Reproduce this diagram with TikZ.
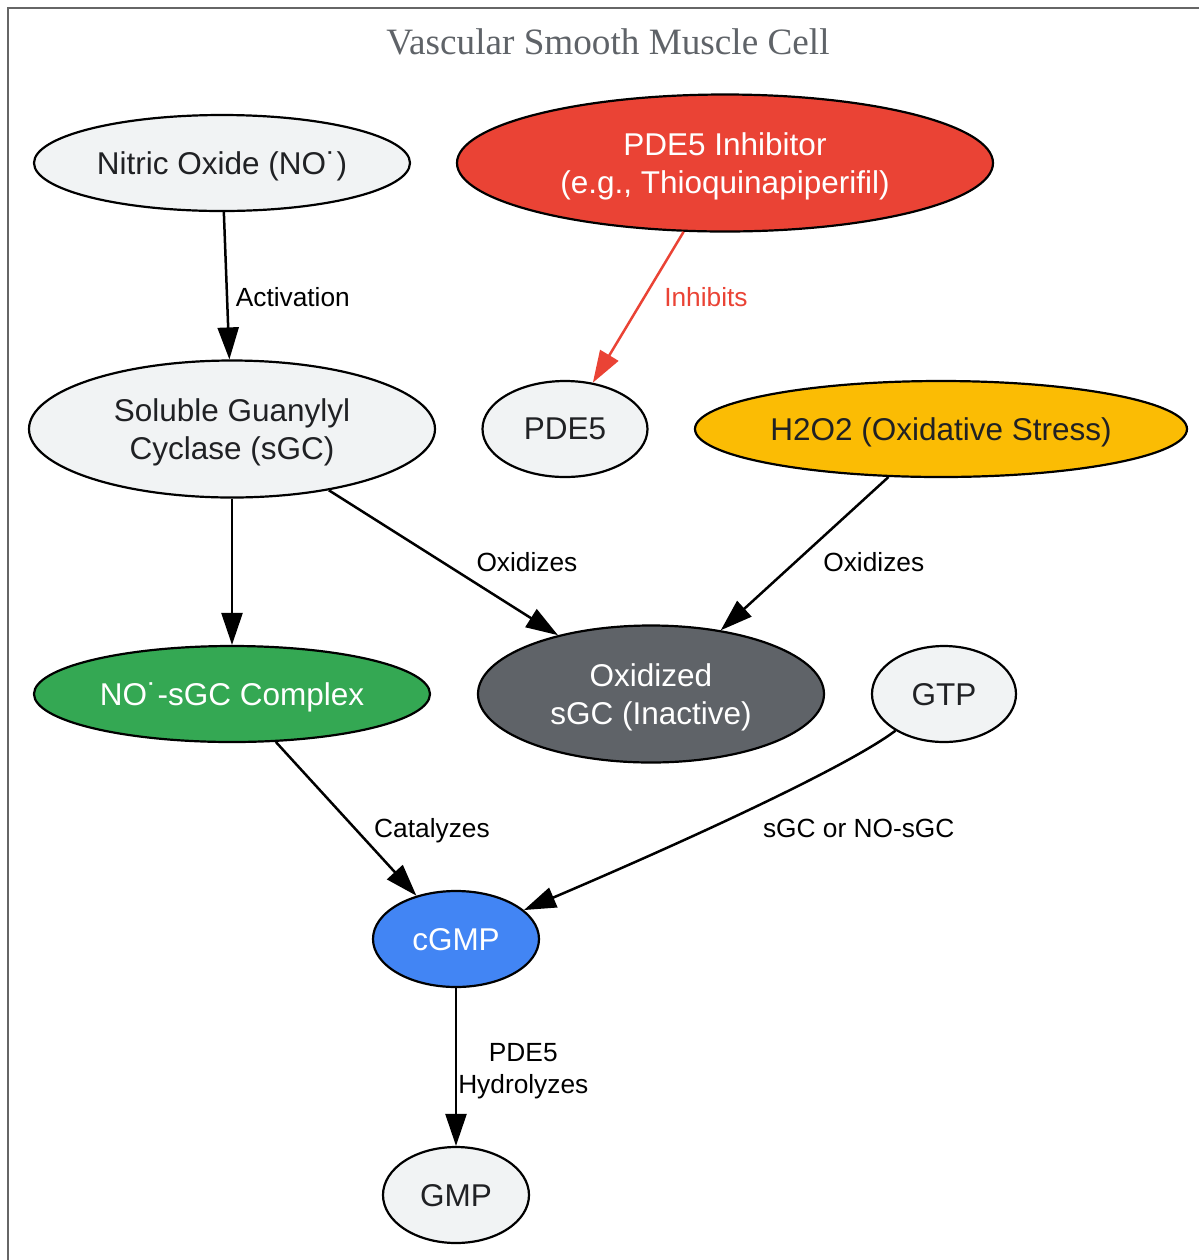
\documentclass[tikz,border=0pt]{standalone}
\usepackage{fontspec}
\setmainfont{Liberation Sans}
\newfontfamily\titlefont{Liberation Serif}
\usetikzlibrary{arrows.meta,shapes.geometric}
\definecolor{palegrey}{HTML}{F1F3F4}
\definecolor{darktext}{HTML}{202124}
\definecolor{inhred}{HTML}{EA4335}
\definecolor{stressyellow}{HTML}{FBBC04}
\definecolor{complexgreen}{HTML}{34A853}
\definecolor{oxgrey}{HTML}{5F6368}
\definecolor{cgmpblue}{HTML}{4285F4}
\definecolor{framegrey}{HTML}{666666}
\newcommand{\molfont}{\fontsize{15.75pt}{19pt}\selectfont}
\newcommand{\labfont}{\fontsize{13.15pt}{16pt}\selectfont}

\begin{document}
\begin{tikzpicture}[->, >={Triangle[length=16pt,width=10.5pt]}, x=0.5pt, y=-0.5pt, line width=1.25pt]
\tikzstyle{mol}=[ellipse, draw=black, line width=1.1pt, inner sep=0, font=\molfont, align=center, fill=palegrey, text=darktext, text depth=-0.7pt]
\tikzstyle{lab}=[font=\labfont, inner sep=0, anchor=west, text=black]
\useasboundingbox (0,0) rectangle (1199,1260);
\draw[-, framegrey, line width=1pt] (1199,8) -- (8,8) -- (8,1260);
\node[font=\titlefont\fontsize{18.6pt}{22pt}\selectfont, text=oxgrey] (title) at (608,42) {Vascular Smooth Muscle Cell};

\node[mol, minimum width=188pt, minimum height=48pt]   (NO)    at (222,163)  {Nitric Oxide (NO˙)};
\node[mol, minimum width=268pt, minimum height=68.5pt, fill=inhred, text=white] (Inh) at (725,163) {PDE5 Inhibitor\\(e.g., Thioquinapiperifil)};
\node[mol, minimum width=203pt, minimum height=68.5pt] (sGC)   at (232,429)  {Soluble Guanylyl\\Cyclase (sGC)};
\node[mol, minimum width=82.5pt, minimum height=48pt]  (PDE5)  at (565,429)  {PDE5};
\node[mol, minimum width=246pt, minimum height=48pt, fill=stressyellow] (H2O2) at (941,429) {H2O2 (Oxidative Stress)};
\node[mol, minimum width=198pt, minimum height=48pt, fill=complexgreen, text=white] (NOsGC) at (232,694) {NO˙-sGC Complex};
\node[mol, minimum width=173pt, minimum height=68.5pt, fill=oxgrey, text=white] (Ox) at (651,694) {Oxidized\\sGC (Inactive)};
\node[mol, minimum width=72pt, minimum height=48pt]    (GTP)   at (944,694)  {GTP};
\node[mol, minimum width=83pt, minimum height=48pt, fill=cgmpblue, text=white] (cGMP) at (456,939) {cGMP};
\node[mol, minimum width=73pt, minimum height=48pt]    (GMP)   at (456,1195) {GMP};

\path
(NO)    edge node[lab, pos=0.58, xshift=3.75pt] {Activation} (sGC)
(Inh)   edge[draw=inhred] node[lab, pos=0.43, xshift=9.2pt, text=inhred] {Inhibits} (PDE5)
(sGC)   edge (NOsGC)
        edge node[lab, pos=0.495, xshift=16.5pt] {Oxidizes} (Ox)
(H2O2)  edge node[lab, pos=0.554, xshift=13.25pt] {Oxidizes} (Ox)
(NOsGC) edge node[lab, pos=0.559, xshift=9.3pt, yshift=-1.5pt] {Catalyzes} (cGMP)
(cGMP)  edge node[lab, pos=0.5, xshift=0.5pt, yshift=-2pt, align=center] {PDE5\\Hydrolyzes} (GMP);
\draw (GTP) .. controls (850,765) and (700,835) .. node[lab, pos=0.4, xshift=-17pt, yshift=-20.5pt] {sGC or NO-sGC} (cGMP);
\end{tikzpicture}
\end{document}
